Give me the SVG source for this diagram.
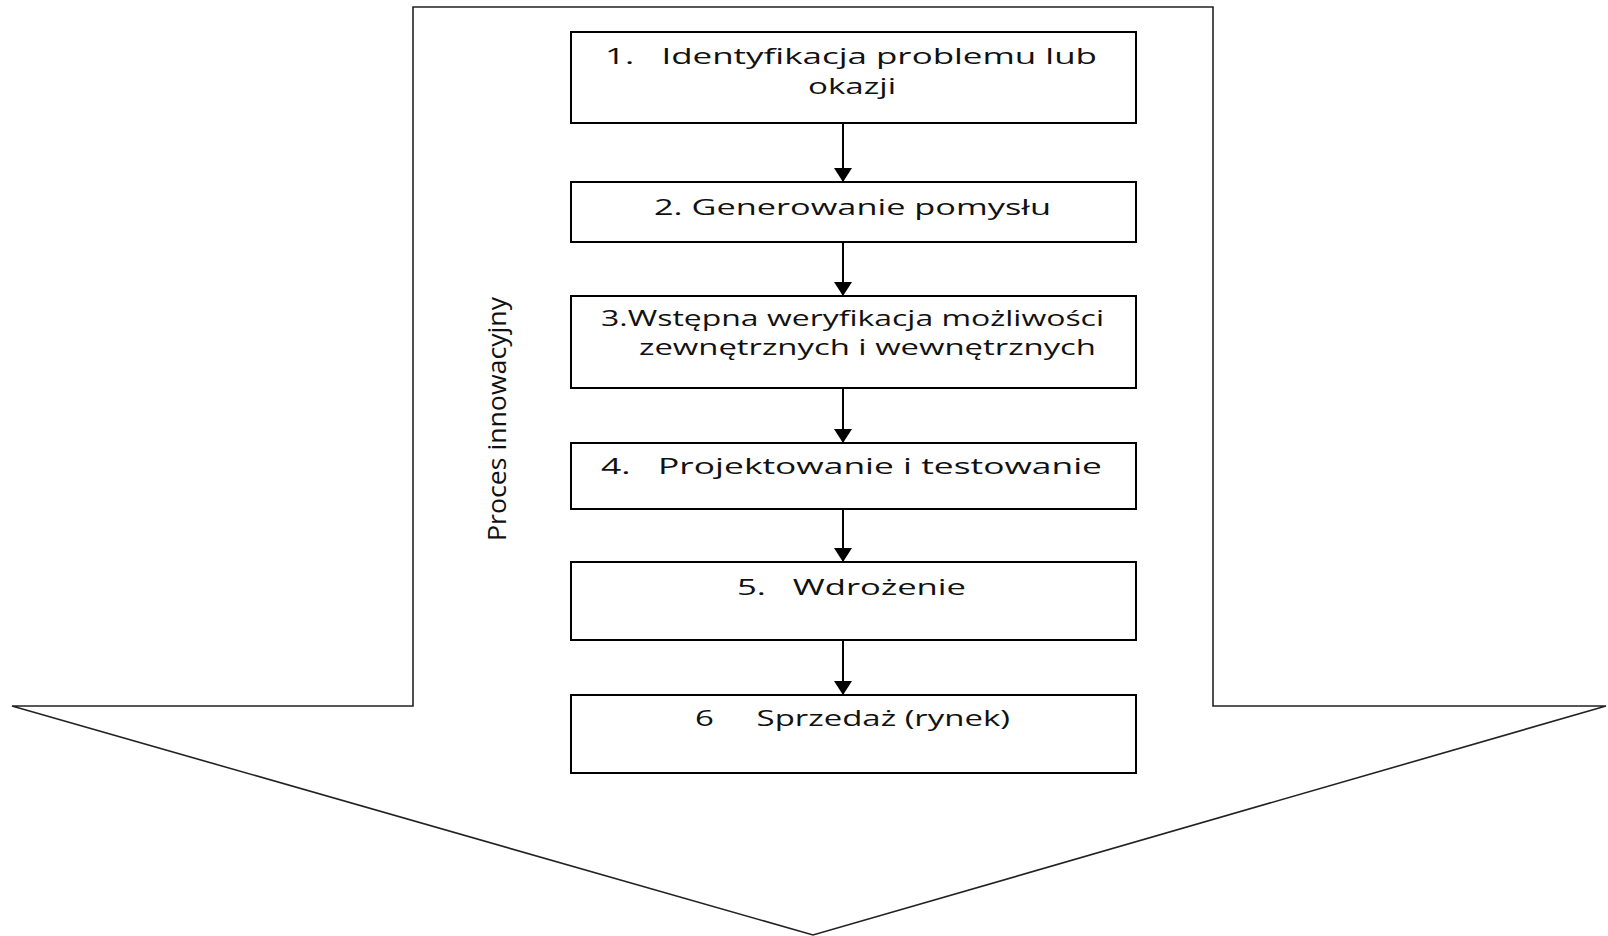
<svg xmlns="http://www.w3.org/2000/svg" width="1608" height="936" viewBox="0 0 1608 936">
<defs>
<marker id="ah" markerWidth="14" markerHeight="18" refX="14" refY="9" orient="auto" markerUnits="userSpaceOnUse" viewBox="0 0 14 18">
<path d="M0,0 L14,9 L0,18 Z" fill="#000"/>
</marker>
<style>
.box{fill:#fff;stroke:#000;stroke-width:2}
.t{font-family:"Open Sans","Liberation Sans",sans-serif;font-size:21px;fill:#111}
.v{font-family:"Open Sans","Liberation Sans",sans-serif;font-size:26px;fill:#111}
.c{stroke:#000;stroke-width:2;fill:none;marker-end:url(#ah)}
</style>
</defs>
<rect width="1608" height="936" fill="#fff"/>
<g id="bigarrow">
<path d="M413,7 L1213,7 L1213,706 L1606,706 L813,935 L12,706 L413,706 Z" fill="#fff" stroke="#222" stroke-width="1.6"/>
<text class="v" transform="translate(506,541) rotate(-90)" textLength="244" lengthAdjust="spacingAndGlyphs">Proces innowacyjny</text>
</g>
<g id="connectors">
<line class="c" x1="843" y1="123" x2="843" y2="182"/>
<line class="c" x1="843" y1="242" x2="843" y2="296"/>
<line class="c" x1="843" y1="388" x2="843" y2="443"/>
<line class="c" x1="843" y1="509" x2="843" y2="562"/>
<line class="c" x1="843" y1="640" x2="843" y2="695"/>
</g>
<g id="n1">
<rect class="box" x="571" y="32" width="565" height="91"/>
<text class="t" x="605" y="64" textLength="492" lengthAdjust="spacingAndGlyphs" xml:space="preserve">1.   Identyfikacja problemu lub</text>
<text class="t" x="808" y="94" textLength="88" lengthAdjust="spacingAndGlyphs">okazji</text>
</g>
<g id="n2">
<rect class="box" x="571" y="182" width="565" height="60"/>
<text class="t" x="654" y="215" textLength="397" lengthAdjust="spacingAndGlyphs">2. Generowanie pomysłu</text>
</g>
<g id="n3">
<rect class="box" x="571" y="296" width="565" height="92"/>
<text class="t" x="601" y="326" textLength="503" lengthAdjust="spacingAndGlyphs">3.Wstępna weryfikacja możliwości</text>
<text class="t" x="639" y="355" textLength="457" lengthAdjust="spacingAndGlyphs">zewnętrznych i wewnętrznych</text>
</g>
<g id="n4">
<rect class="box" x="571" y="443" width="565" height="66"/>
<text class="t" x="601" y="474" textLength="501" lengthAdjust="spacingAndGlyphs" xml:space="preserve">4.   Projektowanie i testowanie</text>
</g>
<g id="n5">
<rect class="box" x="571" y="562" width="565" height="78"/>
<text class="t" x="737" y="595" textLength="229" lengthAdjust="spacingAndGlyphs" xml:space="preserve">5.   Wdrożenie</text>
</g>
<g id="n6">
<rect class="box" x="571" y="695" width="565" height="78"/>
<text class="t" x="695" y="726" textLength="315" lengthAdjust="spacingAndGlyphs" xml:space="preserve">6     Sprzedaż (rynek)</text>
</g>
</svg>
